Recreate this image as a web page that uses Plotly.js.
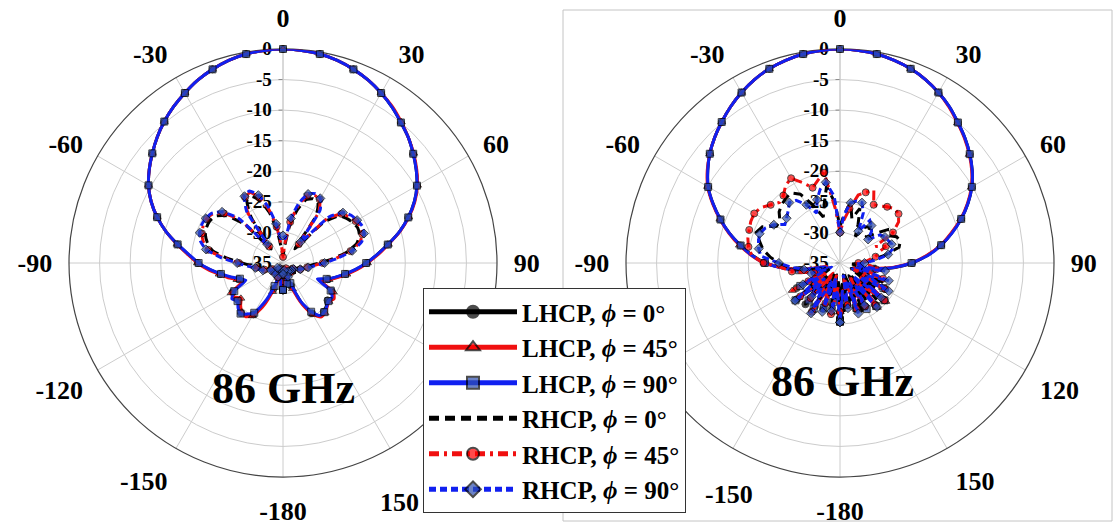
<!DOCTYPE html>
<html><head><meta charset="utf-8">
<script src="https://cdn.plot.ly/plotly-3.0.1.min.js"></script>
<style>html,body{margin:0;padding:0;background:#fff}#c{width:1115px;height:529px}</style>
</head><body><div id="c"></div>
<script>
// theta from -180 to 180 in 5 degree steps
const theta = [];
for (let a = -180; a <= 180; a += 5) theta.push(a);

const angTickVals = [0,30,60,90,120,150,180,210,240,270,300,330];
// labels hidden behind the legend in the original are left blank; the 150 / -150 labels next to the
// legend are placed as annotations where the original shows them
const angTickTextLeft = ['0','30','60','90','','','-180','-150','-120','-90','-60','-30'];
const angTickTextRight = ['0','30','60','90','120','150','-180','','','-90','-60','-30'];
const leftExtraLabel = '150';
const rightExtraLabel = '-150';
const radTickVals = [-35,-30,-25,-20,-15,-10,-5,0];
const radTickText = ['-35','-30','-25','-20','-15','-10','-5','0'];
const seriesNames = ['LHCP, <i>\u03d5</i> = 0\u00b0','LHCP, <i>\u03d5</i> = 45\u00b0','LHCP, <i>\u03d5</i> = 90\u00b0',
                     'RHCP, <i>\u03d5</i> = 0\u00b0','RHCP, <i>\u03d5</i> = 45\u00b0','RHCP, <i>\u03d5</i> = 90\u00b0'];
const panelLabel = '86 GHz';

// ---------- left panel ----------
const L_LHCP_0 = [-30.5,-31.5,-33.5,-33,-30.5,-27.5,-25.3,-24.6,-24.3,
 -24.8,-25.5,-25,-25.5,-28,-27.3,-26,-24.6,-22.9,
 -21.1,-19.5,-17.5,-15.2,-13.1,-11.2,-9.6,-8.3,-7.1,
 -5.9,-4.8,-3.8,-2.9,-2.0,-1.3,-0.7,-0.3,-0.1,
 0,-0.1,-0.3,-0.7,-1.3,-2.0,-2.9,-3.9,-5.0,
 -6.0,-7.2,-8.4,-9.7,-11.3,-13.2,-15.3,-17.6,-19.6,
 -21.3,-23,-24.6,-26,-27.2,-28.5,-25.8,-25,-25.5,
 -25,-24.6,-24.4,-25.5,-27.8,-31,-33.5,-32,-31,
 -30.5];
const L_LHCP_45 = [-31,-32,-33.8,-32.5,-30,-27,-25,-24.3,-24.5,
 -25.2,-26,-25.3,-25.2,-27.5,-27,-25.7,-24.4,-22.7,
 -21,-19.4,-17.4,-15.2,-13.1,-11.2,-9.6,-8.3,-7.1,
 -5.9,-4.8,-3.8,-2.9,-2.0,-1.3,-0.7,-0.3,-0.1,
 0,-0.1,-0.3,-0.7,-1.3,-2.0,-2.9,-3.8,-4.9,
 -6.0,-7.1,-8.3,-9.6,-11.2,-13.1,-15.2,-17.5,-19.4,
 -21.2,-22.8,-24.4,-25.8,-27,-28.2,-25.5,-24.8,-25.2,
 -24.8,-24.3,-24.2,-25.3,-27.5,-30.5,-33,-32.5,-31.5,
 -31];
const L_LHCP_90 = [-30.6,-31,-33,-33.5,-31,-28,-25.6,-24.8,-24.2,
 -24.6,-25.3,-24.8,-25.8,-28.3,-27.5,-26.2,-24.7,-23,
 -21.2,-19.6,-17.5,-15.2,-13.1,-11.2,-9.6,-8.3,-7.1,
 -5.9,-4.8,-3.8,-2.9,-2.0,-1.3,-0.7,-0.3,-0.1,
 0,-0.1,-0.3,-0.7,-1.3,-2.0,-2.9,-3.9,-5.0,
 -6.0,-7.2,-8.4,-9.7,-11.3,-13.2,-15.3,-17.6,-19.6,
 -21.4,-23.1,-24.7,-26.1,-27.4,-28.8,-26,-25.2,-25.3,
 -24.9,-24.5,-24.5,-25.8,-28,-31.5,-33.2,-31.5,-30.8,
 -30.6];
const L_RHCP_0 = [-33.5,-34,-33,-32.5,-33,-34,-33.5,-33,-32.5,
 -33,-33.5,-33,-32.5,-32,-31.8,-31.5,-31,-29.8,
 -28.3,-25.8,-23.3,-22.2,-21.5,-21.2,-21.2,-21.6,-23,
 -26,-32,-26,-23.2,-23,-24.3,-26.5,-30,-33,
 -33.8,-32.5,-29,-26,-24,-23.4,-23.6,-25.5,-32,
 -25.5,-23,-22.3,-21.8,-21.5,-21.7,-22.5,-24.3,-26.8,
 -29,-30.5,-31.5,-32,-32.5,-33,-33.5,-33,-32.5,
 -33,-33.5,-34,-33.5,-33,-32.5,-33,-33.5,-34,
 -33.5];
const L_RHCP_45 = [-33,-33.5,-34,-33,-32.5,-33,-33.8,-33.5,-33,
 -32.5,-33,-33.5,-33,-32.4,-31.8,-31.2,-30.6,-29.4,
 -27.8,-25.2,-22.6,-21.5,-20.9,-20.6,-20.6,-21,-22.4,
 -25,-31.5,-25,-22.6,-22.3,-23.6,-25.8,-29,-32.4,
 -34,-32,-28.2,-25.2,-23.3,-22.8,-23,-24.8,-31,
 -24.8,-22.5,-21.8,-21.3,-21,-21.2,-22,-23.8,-26.3,
 -28.5,-30,-31,-31.6,-32,-32.6,-33.2,-33.8,-33,
 -32.5,-33,-33.5,-34,-33.5,-33,-32.5,-33,-33.5,
 -33];
const L_RHCP_90 = [-33.2,-33.8,-33.5,-33,-32.6,-33.5,-34,-33.2,-32.8,
 -33.2,-33.8,-33.2,-32.7,-32.2,-31.5,-31,-30.4,-29.2,
 -27.5,-24.8,-22.2,-21,-20.5,-20.3,-20.4,-20.8,-22,
 -24.6,-31,-24.6,-22.4,-22,-23.2,-25.4,-28.5,-31,
 -30.5,-31,-27.6,-24.8,-23,-22.5,-22.8,-24.4,-30.5,
 -24.3,-22.2,-21.4,-21,-20.7,-20.9,-21.7,-23.5,-26,
 -28.2,-29.8,-30.8,-31.5,-32,-32.5,-33,-33.5,-33.2,
 -32.7,-33.2,-33.8,-33.4,-33,-32.6,-33.2,-33.8,-33.5,
 -33.2];

// ---------- right panel ----------
const R_LHCP_0 = [-26,-31.5,-27.5,-33,-27,-31,-26.8,-32.5,-26.2,
 -29.5,-25.8,-31.5,-26.8,-33,-31.5,-32.2,-28.4,-25.7,
 -22.8,-20.6,-18.5,-16.3,-14.2,-12.1,-10.1,-8.6,-7.2,
 -6.0,-4.9,-3.8,-2.8,-1.9,-1.2,-0.7,-0.3,-0.1,
 0,-0.1,-0.3,-0.7,-1.2,-1.9,-2.8,-3.8,-5.0,
 -6.1,-7.3,-8.6,-10.1,-11.9,-13.9,-16.1,-18.2,-20.6,
 -23.2,-26.2,-29.4,-32,-31,-33,-26.5,-31,-25.8,
 -30,-26.2,-32.5,-26.8,-31,-27.5,-33,-28,-31.5,
 -26];
const R_LHCP_45 = [-27,-30.5,-26.8,-32,-28,-30,-26,-33,-27,
 -30.5,-26.2,-32,-26,-32.5,-31,-32.8,-28.8,-25.9,
 -22.6,-20.4,-18.3,-16.2,-14.1,-12,-10,-8.5,-7.2,
 -6.0,-4.9,-3.8,-2.8,-1.9,-1.2,-0.7,-0.3,-0.1,
 0,-0.1,-0.3,-0.7,-1.2,-1.9,-2.8,-3.9,-5.1,
 -6.2,-7.4,-8.7,-10.2,-12,-14,-16.2,-18.3,-20.8,
 -23.4,-26.4,-29.8,-31.5,-32.5,-31,-27,-30,-25.2,
 -31,-25.5,-32,-27.5,-30,-26.8,-32.5,-29,-30.5,
 -27];
const R_LHCP_90 = [-25.4,-30,-28.5,-32.5,-27.2,-32,-26.4,-31.5,-27,
 -30,-25.5,-31,-27.5,-33.5,-31.2,-32.5,-28.2,-25.6,
 -22.7,-20.5,-18.5,-16.3,-14.2,-12.1,-10.1,-8.6,-7.2,
 -6.0,-4.9,-3.8,-2.8,-1.9,-1.2,-0.7,-0.3,-0.1,
 0,-0.1,-0.3,-0.7,-1.2,-1.9,-2.8,-3.8,-5.0,
 -6.1,-7.3,-8.6,-10.1,-11.9,-13.9,-16,-18.2,-20.5,
 -23.3,-26.3,-29.6,-32.2,-30.5,-32.8,-26.8,-30.5,-25.5,
 -29.5,-25.8,-31.8,-26.3,-30.5,-27.2,-32,-28.5,-30,
 -25.4];
const R_RHCP_0 = [-28,-32,-26.5,-30.5,-27.5,-33,-26,-31,-28.5,
 -32,-27,-30.5,-33,-31.5,-32.5,-31,-28.5,-26.5,
 -25,-23.5,-22.2,-21.4,-20.4,-21,-23,-23,-22,
 -21.5,-21.2,-21,-22,-24.5,-27,-25,-22.3,-25,
 -29,-27,-25,-27.5,-25.5,-28,-30,-27.8,-27.3,
 -29,-27.5,-25.5,-26,-24.8,-24.5,-25,-27.5,-30,
 -31.5,-33,-32,-31,-30,-27,-32.5,-28,-31,
 -26.5,-32.5,-27.5,-31,-26,-33,-28.5,-30.5,-27,
 -28];
const R_RHCP_45 = [-27,-31,-26.5,-33,-28,-30.5,-25.8,-32,-27.5,
 -31,-26.5,-32.5,-29,-31.5,-30.5,-29,-27,-25.6,
 -22.5,-20.5,-19.8,-19.4,-19.2,-18.9,-18.8,-19.2,-20.2,
 -21,-20.6,-19.5,-19,-20.5,-21.9,-21,-20,-26,
 -30,-28,-26,-23.5,-22.7,-21.9,-24,-23.6,-23,
 -22.4,-22.5,-23.3,-25,-28.6,-27,-28.5,-29.1,-30.5,
 -32,-30,-29,-31,-27.5,-32.5,-26.5,-31,-25.5,
 -29.5,-26,-32,-26.8,-30.5,-27,-32.5,-28,-30,
 -27];
const R_RHCP_90 = [-25.3,-30.5,-27,-32.5,-26.5,-31.5,-25.5,-30,-27.8,
 -31.5,-25.4,-31,-28,-32.5,-30,-31.5,-29,-27,
 -25,-22,-21.5,-21.2,-21,-21.5,-22.5,-24,-23.6,
 -23,-22.1,-22.5,-24,-26,-24,-22.5,-21.6,-24,
 -30,-27,-25,-24.5,-24.5,-26,-29,-26.5,-27,
 -27.7,-29,-27,-26.5,-26.3,-26,-26.1,-27,-29,
 -31,-32.5,-27.5,-31.5,-26.5,-30,-25.8,-31,-26.2,
 -32,-25.6,-30.5,-27,-31.5,-26.2,-33,-27.5,-30.5,
 -25.3];

const FONT = 'Liberation Serif, Times New Roman, serif';
const BLACK = '#000000', RED = '#f01010', BLUE = '#1020f0';

// markers only at multiples of 10 degrees
const mSize = theta.map(t => (t % 10 === 0 ? 7 : 0));
const mLine = theta.map(t => (t % 10 === 0 ? 1 : 0));

const styles = [
  {color: BLACK, dash: 'solid', symbol: 'circle', mcolor: BLACK},
  {color: RED, dash: 'solid', symbol: 'triangle-up', mcolor: '#ff0000'},
  {color: BLUE, dash: 'solid', symbol: 'square', mcolor: '#2f4fb0'},
  {color: BLACK, dash: '10px,6px', symbol: null, mcolor: BLACK},
  {color: RED, dash: '10px,5px,3px,5px', symbol: 'circle', mcolor: '#ff0000'},
  {color: BLUE, dash: '7px,4px', symbol: 'diamond', mcolor: '#2f4fb0'}
];

function makeTrace(r, k, subplot, legend, shape) {
  const s = styles[k];
  const t = {
    type: 'scatterpolar', r: r, theta: theta, subplot: subplot,
    name: '<b>' + seriesNames[k] + '</b>',
    legendgroup: 'g' + k, showlegend: legend,
    mode: s.symbol ? 'lines+markers' : 'lines',
    line: {color: s.color, width: 3, dash: s.dash, shape: shape, smoothing: 0.5},
    hoverinfo: 'skip'
  };
  if (s.symbol) t.marker = {symbol: s.symbol, color: s.mcolor, size: mSize, line: {color: '#000', width: mLine}};
  return t;
}

const leftSeries = [L_LHCP_0, L_LHCP_45, L_LHCP_90, L_RHCP_0, L_RHCP_45, L_RHCP_90];
const rightSeries = [R_LHCP_0, R_LHCP_45, R_LHCP_90, R_RHCP_0, R_RHCP_45, R_RHCP_90];
const data = [];
leftSeries.forEach((r, k) => data.push(makeTrace(r, k, 'polar', true, 'spline')));
rightSeries.forEach((r, k) => data.push(makeTrace(r, k, 'polar2', false, k < 3 ? 'spline' : 'linear')));

const W = 1115, H = 529, R = 214, CY = 263;
function polarCfg(cx, angText) {
  return {
    domain: {x: [(cx - R) / W, (cx + R) / W], y: [(H - CY - R) / H, (H - CY + R) / H]},
    bgcolor: 'rgba(0,0,0,0)',
    angularaxis: {
      rotation: 90, direction: 'clockwise', tickmode: 'array',
      tickvals: angTickVals, ticktext: angText,
      ticks: 'outside', ticklen: 11, tickcolor: 'rgba(0,0,0,0)', tickwidth: 1,
      showline: true, linecolor: '#444', linewidth: 1.2,
      showgrid: true, gridcolor: '#cccccc', gridwidth: 1,
      tickfont: {family: FONT, size: 26, color: '#000', weight: 'bold'},
      layer: 'below traces'
    },
    radialaxis: {
      range: [-35, 0], angle: 90, tickmode: 'array',
      tickvals: radTickVals, ticktext: radTickText,
      side: 'counterclockwise', ticks: 'outside', ticklen: 4, tickcolor: '#888',
      showline: true, linecolor: '#cccccc', linewidth: 1,
      showgrid: true, gridcolor: '#cccccc', gridwidth: 1,
      tickfont: {family: FONT, size: 19, color: '#000', weight: 'bold'},
      tickangle: 90, layer: 'below traces'
    }
  };
}

const layout = {
  width: W, height: H, margin: {l: 0, r: 0, t: 0, b: 0},
  paper_bgcolor: '#ffffff', plot_bgcolor: '#ffffff',
  polar: polarCfg(283, angTickTextLeft), polar2: polarCfg(840, angTickTextRight),
  showlegend: true,
  legend: {
    x: 423 / W, y: 1 - 288 / H, xanchor: 'left', yanchor: 'top',
    bgcolor: '#ffffff', bordercolor: '#333', borderwidth: 1,
    font: {family: FONT, size: 25, color: '#000'},
    itemsizing: 'constant', itemwidth: 88, traceorder: 'grouped', tracegroupgap: 0
  },
  annotations: [
    {xref: 'paper', yref: 'paper', x: 283 / W, y: 1 - 388 / H, text: '<b>' + panelLabel + '</b>', showarrow: false,
     font: {family: FONT, size: 44, color: '#000'}, xanchor: 'center', yanchor: 'middle'},
    {xref: 'paper', yref: 'paper', x: 842 / W, y: 1 - 381 / H, text: '<b>' + panelLabel + '</b>', showarrow: false,
     font: {family: FONT, size: 44, color: '#000'}, xanchor: 'center', yanchor: 'middle'},
    {xref: 'paper', yref: 'paper', x: 399 / W, y: 1 - 502 / H, text: '<b>' + leftExtraLabel + '</b>', showarrow: false,
     font: {family: FONT, size: 26, color: '#000'}, xanchor: 'center', yanchor: 'middle'},
    {xref: 'paper', yref: 'paper', x: 729 / W, y: 1 - 494 / H, text: '<b>' + rightExtraLabel + '</b>', showarrow: false,
     font: {family: FONT, size: 26, color: '#000'}, xanchor: 'center', yanchor: 'middle'}
  ],
  shapes: [
    {type: 'rect', xref: 'paper', yref: 'paper', x0: 563 / W, x1: 1112 / W, y0: 1 - 521 / H, y1: 1 - 10 / H,
     line: {color: '#c4c4c4', width: 1}, layer: 'below'}
  ]
};

Plotly.newPlot('c', data, layout, {staticPlot: true, displayModeBar: false});
</script></body></html>
